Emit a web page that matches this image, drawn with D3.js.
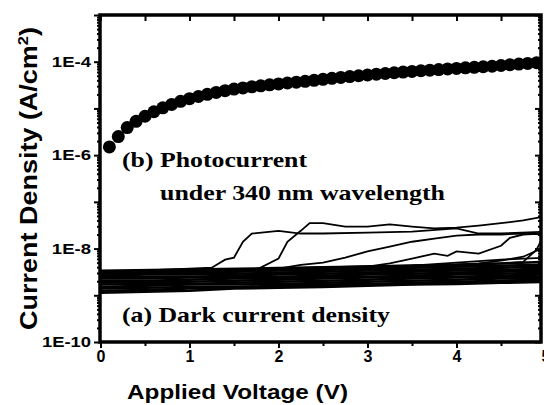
<!DOCTYPE html>
<html>
<head>
<meta charset="utf-8">
<script src="https://cdn.jsdelivr.net/npm/d3@7"></script>
<style>
  body { margin: 0; background: #fff; }
  svg { display: block; }
</style>
</head>
<body>
<svg id="chart" width="544" height="405"></svg>
<script>
// photocurrent under 340 nm (b)
const photoV = [0.1,0.2,0.3,0.4,0.5,0.6,0.7,0.8,0.9,1.0,1.1,1.2,1.3,1.4,1.5,1.6,1.7,1.8,1.9,2.0,
                2.1,2.2,2.3,2.4,2.5,2.6,2.7,2.8,2.9,3.0,3.1,3.2,3.3,3.4,3.5,3.6,3.7,3.8,3.9,4.0,
                4.1,4.2,4.3,4.4,4.5,4.6,4.7,4.8,4.9]
const photoJ = [1.5e-6,2.5e-6,3.9e-6,5.3e-6,6.8e-6,8.5e-6,1.03e-5,1.22e-5,1.42e-5,1.62e-5,
                1.8e-5,2.0e-5,2.2e-5,2.4e-5,2.6e-5,2.75e-5,2.9e-5,3.05e-5,3.2e-5,3.35e-5,
                3.5e-5,3.65e-5,3.8e-5,4.0e-5,4.2e-5,4.4e-5,4.6e-5,4.8e-5,5.0e-5,5.2e-5,
                5.4e-5,5.6e-5,5.8e-5,6.0e-5,6.2e-5,6.4e-5,6.6e-5,6.8e-5,7.0e-5,7.2e-5,
                7.4e-5,7.6e-5,7.8e-5,8.0e-5,8.3e-5,8.6e-5,8.9e-5,9.2e-5,9.5e-5]

// dark current density (a): the dense band of devices
const bandV = [0,0.5,1,1.5,2,2.5,3,3.5,4,4.5,5]
const band = [
  [3.2e-9,3.2e-9,3.4e-9,3.5e-9,3.7e-9,3.9e-9,4.1e-9,4.3e-9,4.5e-9,4.8e-9,5.2e-9],
  [2.9e-9,3.05e-9,3.05e-9,3.2e-9,3.4e-9,3.5e-9,3.7e-9,3.9e-9,4.1e-9,4.3e-9,4.5e-9],
  [2.6e-9,2.8e-9,2.8e-9,2.9e-9,3.05e-9,3.2e-9,3.4e-9,3.5e-9,3.7e-9,3.9e-9,4.1e-9],
  [2.4e-9,2.5e-9,2.5e-9,2.6e-9,2.8e-9,2.9e-9,3.05e-9,3.2e-9,3.4e-9,3.5e-9,3.7e-9],
  [2.3e-9,2.3e-9,2.4e-9,2.4e-9,2.5e-9,2.6e-9,2.8e-9,2.9e-9,3.05e-9,3.2e-9,3.4e-9],
  [2.05e-9,2.05e-9,2.15e-9,2.3e-9,2.3e-9,2.4e-9,2.5e-9,2.6e-9,2.8e-9,2.9e-9,3.05e-9],
  [1.85e-9,1.95e-9,1.95e-9,2.05e-9,2.15e-9,2.3e-9,2.4e-9,2.4e-9,2.5e-9,2.6e-9,2.8e-9],
  [1.7e-9,1.75e-9,1.75e-9,1.85e-9,1.95e-9,2.05e-9,2.15e-9,2.3e-9,2.4e-9,2.5e-9,2.5e-9],
  [1.5e-9,1.6e-9,1.7e-9,1.7e-9,1.75e-9,1.85e-9,1.95e-9,2.05e-9,2.15e-9,2.3e-9,2.3e-9],
  [1.4e-9,1.45e-9,1.5e-9,1.5e-9,1.6e-9,1.7e-9,1.75e-9,1.85e-9,1.95e-9,2.05e-9,2.15e-9],
  [1.25e-9,1.3e-9,1.4e-9,1.45e-9,1.5e-9,1.6e-9,1.7e-9,1.75e-9,1.85e-9,1.95e-9,2.05e-9],
  [1.13e-9,1.2e-9,1.25e-9,1.4e-9,1.45e-9,1.5e-9,1.6e-9,1.7e-9,1.75e-9,1.85e-9,1.95e-9]
]

// dark current: devices that break away from the band
const jumpA_V = [0,0.5,1.0,1.25,1.4,1.5,1.6,1.7,2.0,2.25,2.5,3.0,3.5,4.0,4.25,4.5,5.0]
const jumpA_J = [3.2e-9,3.4e-9,3.7e-9,3.9e-9,5.8e-9,6.4e-9,1.4e-8,2.1e-8,2.4e-8,2.1e-8,2.1e-8,2.2e-8,2.3e-8,2.7e-8,2.1e-8,2.1e-8,2.3e-8]
const jumpB_V = [0,0.5,1,1.5,1.75,2.0,2.1,2.25,2.35,2.5,2.75,3.0,3.25,3.5,3.75,4.0,4.25,4.5,4.75,5.0]
const jumpB_J = [3.05e-9,3.2e-9,3.4e-9,3.5e-9,3.5e-9,6.1e-9,1.4e-8,2.4e-8,3.5e-8,3.5e-8,2.95e-8,2.95e-8,3.3e-8,2.95e-8,2.7e-8,2.8e-8,3.1e-8,3.5e-8,4.0e-8,4.9e-8]
const jumpC_V = [0,1,2,2.25,2.5,2.75,3.0,3.25,3.5,3.75,4.0,4.25,4.5,4.75,5.0]
const jumpC_J = [3.05e-9,3.4e-9,3.7e-9,4.5e-9,5.0e-9,6.4e-9,8.7e-9,1.1e-8,1.4e-8,1.64e-8,1.9e-8,2.0e-8,2.0e-8,2.1e-8,2.0e-8]
const jumpD_V = [0,1,2,3.0,3.25,3.5,3.75,3.9,4.0,4.25,4.5,4.6,4.75,5.0]
const jumpD_J = [2.9e-9,3.2e-9,3.5e-9,4.1e-9,4.8e-9,6.1e-9,7.8e-9,7.0e-9,8.7e-9,7.8e-9,1.15e-8,1.7e-8,2.0e-8,2.1e-8]
const jumpE_V = [0,2,4.0,4.25,4.5,4.75,5.0]
const jumpE_J = [3.2e-9,3.7e-9,4.5e-9,4.8e-9,5.5e-9,6.7e-9,1.1e-8]
const jumpF_V = [0,2,4,4.5,4.75,4.9,5.0]
const jumpF_J = [3.4e-9,3.9e-9,4.5e-9,4.8e-9,5.2e-9,9.5e-9,2.3e-8]
const jumpG_V = [0,2,3.5,4,4.5,5]
const jumpG_J = [3.2e-9,3.5e-9,4.3e-9,5.0e-9,5.8e-9,6.4e-9]

const xMajor = [0,1,2,3,4,5]
const xMinor = [0.5,1.5,2.5,3.5,4.5]
const yDecades = [1e-10,1e-9,1e-8,1e-7,1e-6,1e-5,1e-4,1e-3]
const yLabelled = [1e-10,1e-8,1e-6,1e-4]

const svg = d3.select('#chart')

const x = d3.scaleLinear().domain([0, 5]).range([100.5, 545.5])
const y = d3.scaleLog().domain([1e-10, 1e-3]).range([342, 15])

const plot = { left: 100, right: 541, top: 15, bottom: 342 }

const yMinor = []
yDecades.slice(0, -1).forEach(d => {
    for (let k = 2; k <= 9; k++) yMinor.push(d * k)
})

const sansBold = "'Liberation Sans', Arial, sans-serif"
const serifBold = "'Liberation Serif', 'Times New Roman', serif"

// clip for data
svg.append('clipPath').attr('id', 'clip')
    .append('rect')
    .attr('x', plot.left).attr('y', plot.top)
    .attr('width', plot.right - plot.left).attr('height', plot.bottom - plot.top)

const dataG = svg.append('g').attr('clip-path', 'url(#clip)')

const line = d3.line()
    .x(d => x(d[0]))
    .y(d => y(d[1]))

const zip = (vs, js) => vs.map((v, i) => [v, js[i]])

const bandCurves = band.map(js => zip(bandV, js))
const jumpCurves = [
    zip(jumpA_V, jumpA_J),
    zip(jumpB_V, jumpB_J),
    zip(jumpC_V, jumpC_J),
    zip(jumpD_V, jumpD_J),
    zip(jumpE_V, jumpE_J),
    zip(jumpF_V, jumpF_J),
    zip(jumpG_V, jumpG_J),
]

dataG.selectAll('path.band')
    .data(bandCurves)
    .enter().append('path')
        .attr('class', 'band')
        .attr('d', d => line(d))
        .style('fill', 'none')
        .style('stroke', '#000')
        .style('stroke-width', '2.6px')

dataG.selectAll('path.jump')
    .data(jumpCurves)
    .enter().append('path')
        .attr('class', 'jump')
        .attr('d', d => line(d))
        .style('fill', 'none')
        .style('stroke', '#000')
        .style('stroke-width', '1.8px')

dataG.selectAll('circle.photo')
    .data(zip(photoV, photoJ))
    .enter().append('circle')
        .attr('class', 'photo')
        .attr('cx', d => x(d[0]))
        .attr('cy', d => y(d[1]))
        .attr('r', 6.5)
        .attr('fill', '#000')

// axes
function styleAxis(g) {
    g.select('.domain').remove()
    g.selectAll('line').attr('stroke', '#000').attr('stroke-width', 2)
    g.selectAll('text')
        .attr('fill', '#000')
        .style('font-family', sansBold)
        .style('font-weight', 'bold')
}

// bottom
svg.append('g')
    .attr('transform', 'translate(0,' + plot.bottom + ')')
    .call(d3.axisBottom(x).tickValues(xMajor).tickSize(6).tickPadding(3).tickFormat(d3.format('d')))
    .call(styleAxis)
    .call(g => g.selectAll('text').style('font-size', '16px'))
svg.append('g')
    .attr('transform', 'translate(0,' + plot.bottom + ')')
    .call(d3.axisBottom(x).tickValues(xMinor).tickSize(4).tickFormat(''))
    .call(styleAxis)

// top (inward)
svg.append('g')
    .attr('transform', 'translate(0,' + plot.top + ')')
    .call(d3.axisBottom(x).tickValues(xMajor.concat(xMinor)).tickSize(6).tickFormat(''))
    .call(styleAxis)

// left
svg.append('g')
    .attr('transform', 'translate(' + plot.left + ',0)')
    .call(d3.axisLeft(y).tickValues(yDecades).tickSize(6).tickPadding(3)
        .tickFormat(d => yLabelled.includes(d) ? '1E' + Math.round(Math.log10(d)) : ''))
    .call(styleAxis)
    .call(g => g.selectAll('text')
        .style('font-size', '14px')
        .attr('textLength', function() { return this.textContent.length * 9.8 })
        .attr('lengthAdjust', 'spacingAndGlyphs'))
svg.append('g')
    .attr('transform', 'translate(' + plot.left + ',0)')
    .call(d3.axisLeft(y).tickValues(yMinor).tickSize(3).tickFormat(''))
    .call(styleAxis)

// right (inward)
svg.append('g')
    .attr('transform', 'translate(' + plot.right + ',0)')
    .call(d3.axisLeft(y).tickValues(yDecades).tickSize(6).tickFormat(''))
    .call(styleAxis)
svg.append('g')
    .attr('transform', 'translate(' + plot.right + ',0)')
    .call(d3.axisLeft(y).tickValues(yMinor).tickSize(3).tickFormat(''))
    .call(styleAxis)

// frame
svg.append('rect')
    .attr('x', plot.left).attr('y', plot.top)
    .attr('width', plot.right - plot.left).attr('height', plot.bottom - plot.top)
    .attr('fill', 'none')
    .attr('stroke', '#000')
    .attr('stroke-width', 3.5)

// axis titles
svg.append('text')
    .attr('x', 127).attr('y', 399)
    .attr('textLength', 221).attr('lengthAdjust', 'spacingAndGlyphs')
    .style('font-family', sansBold).style('font-weight', 'bold').style('font-size', '20px')
    .text('Applied Voltage (V)')

const yTitle = svg.append('text')
    .attr('transform', 'translate(37,330) rotate(-90)')
    .attr('textLength', 303).attr('lengthAdjust', 'spacingAndGlyphs')
    .style('font-family', sansBold).style('font-weight', 'bold').style('font-size', '23px')
yTitle.append('tspan').text('Current Density (A/cm')
yTitle.append('tspan').attr('dy', -9).style('font-size', '14px').text('2')
yTitle.append('tspan').attr('dy', 9).text(')')

// annotations
const notes = [
    { t: '(b) Photocurrent', x: 122, y: 167, w: 185 },
    { t: 'under 340 nm wavelength', x: 160, y: 200, w: 285 },
    { t: '(a) Dark current density', x: 122, y: 322, w: 268 },
]
svg.selectAll('text.note')
    .data(notes)
    .enter().append('text')
        .attr('class', 'note')
        .attr('x', d => d.x).attr('y', d => d.y)
        .attr('textLength', d => d.w).attr('lengthAdjust', 'spacingAndGlyphs')
        .style('font-family', serifBold).style('font-weight', 'bold').style('font-size', '21px')
        .text(d => d.t)
</script>
</body>
</html>
